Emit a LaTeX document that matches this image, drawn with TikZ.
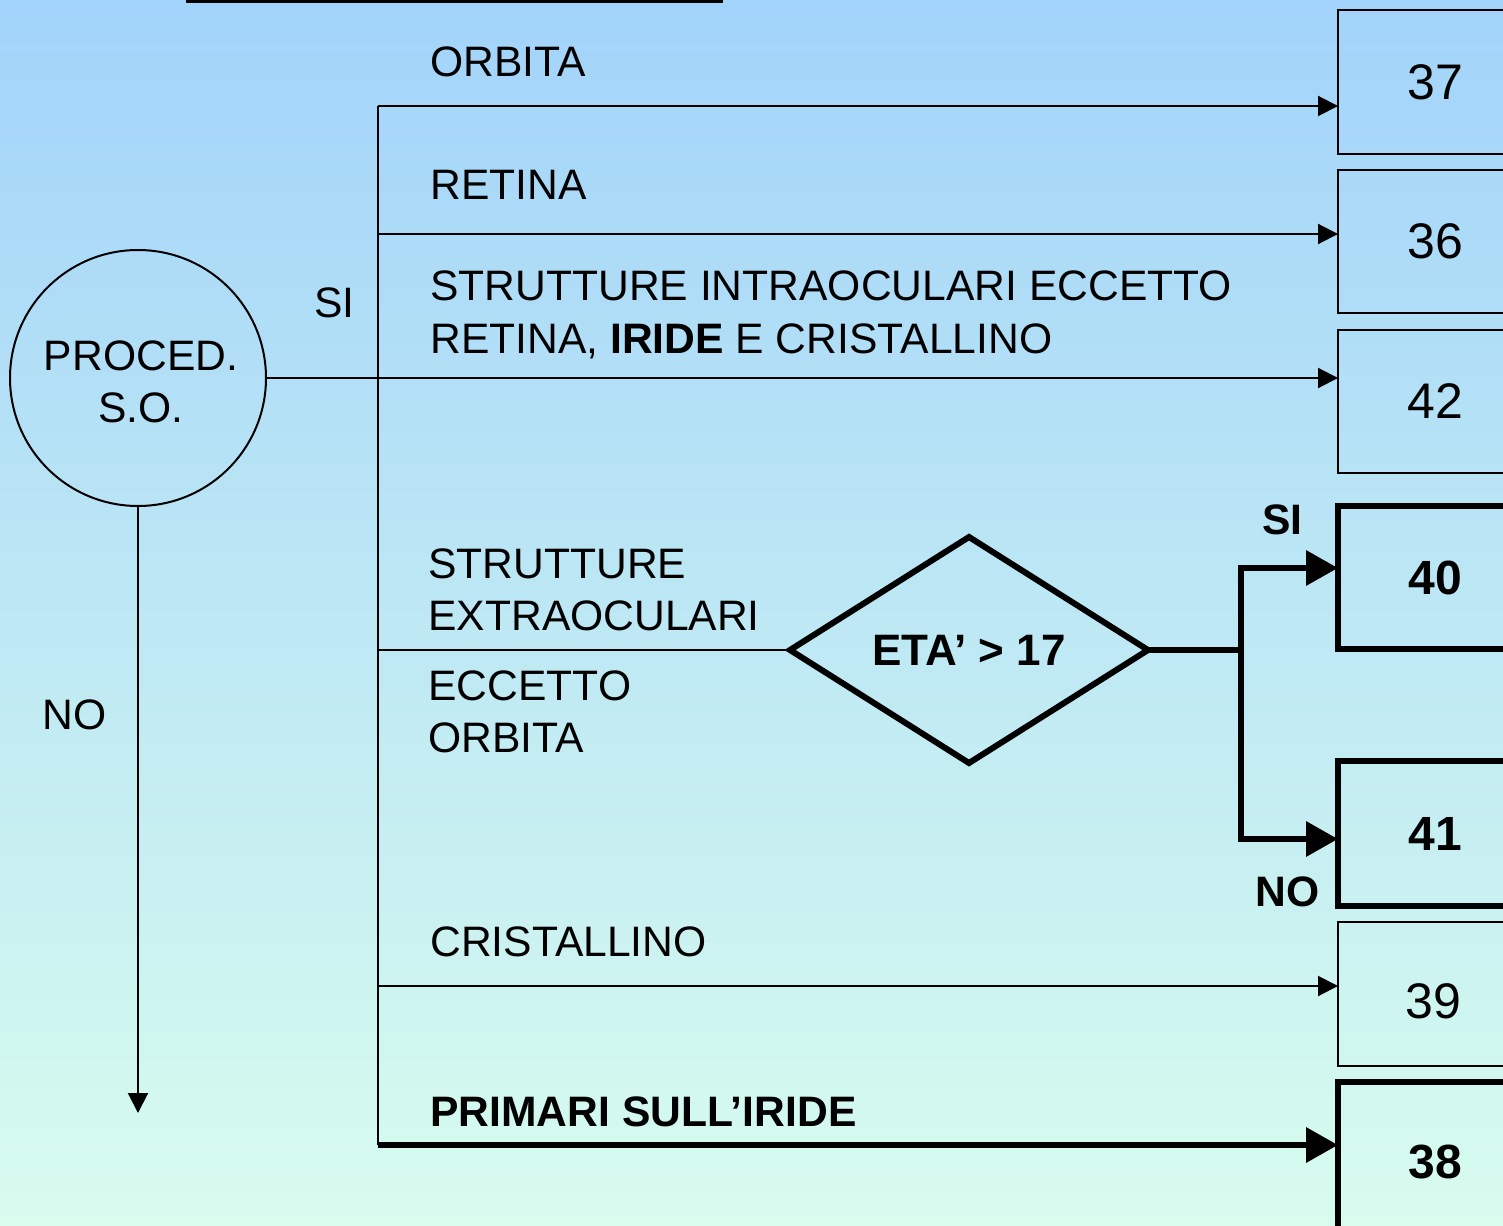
\documentclass[tikz,border=0pt]{standalone}
\usepackage{fontspec}
\setmainfont{Liberation Sans}
\usetikzlibrary{arrows.meta,shapes.geometric}
\definecolor{bgtop}{RGB}{162,211,250}
\definecolor{bgbot}{RGB}{216,252,238}
\begin{document}
\begin{tikzpicture}[x=0.5pt,y=-0.5pt,
  lbl/.style={inner sep=0pt, anchor=base west, font=\fontsize{21.3}{26}\selectfont},
  blbl/.style={lbl, font=\fontsize{21.3}{26}\selectfont\bfseries},
  tline/.style={line width=1pt},
  kline/.style={line width=3.3pt},
  tarrow/.style={tline, -{Triangle[length=10pt,width=10pt]}},
  karrow/.style={kline, -{Triangle[length=16pt,width=17pt]}},
  numbox/.style={draw, tline, inner sep=0pt, outer sep=0pt, anchor=north west, minimum width=97pt, font=\fontsize{25}{30}\selectfont},
  bnumbox/.style={numbox, kline, font=\fontsize{24}{30}\selectfont\bfseries}]
\shade[top color=bgtop,bottom color=bgbot] (0,0) rectangle (1503,1225);
\useasboundingbox (0,0) rectangle (1503,1225);
% top rule
\coordinate (tl1) at (186,1);
\coordinate (tl2) at (723,1);
\draw[line width=1.6pt] (tl1) -- (tl2);
% start circle
\node[circle, draw, tline, minimum size=128pt, inner sep=0pt, outer sep=0pt] (proc) at (138,378) {};
\node[inner sep=0pt, align=center, font=\fontsize{21.3}{26}\selectfont] (proctxt) at (141,382) {PROCED.\\S.O.};
\coordinate (noend) at (138,1113);
\draw[tarrow] (proc.south) -- (noend);
\node[lbl] (nolbl) at (42,729) {NO};
\node[lbl] (silbl) at (314,317) {SI};
% boxes
\node[numbox, minimum height=72pt] (b37) at (1338,10) {37};
\node[numbox, minimum height=71.5pt] (b36) at (1338,170) {36};
\node[numbox, minimum height=71.5pt] (b42) at (1338,330) {42};
\node[bnumbox, minimum height=71.5pt] (b40) at (1338,506) {40};
\node[bnumbox, minimum height=72.5pt] (b41) at (1338,761) {41};
\node[numbox, minimum height=72pt] (b39) at (1338,922) {};
\node[inner sep=0pt, font=\fontsize{25}{30}\selectfont] (n39) at (1433,1001) {39};
\node[bnumbox, minimum height=80pt] (b38) at (1338,1082) {38};
% trunk
\coordinate (ttop) at (378,106);
\coordinate (tbot) at (378,1145);
\draw[tline] (ttop) -- (tbot);
\coordinate (t36) at (378,234);
\coordinate (t40) at (378,650);
\coordinate (t39) at (378,986);
\draw[tarrow] (ttop) -- (ttop -| b37.west);
\draw[tarrow] (t36) -- (t36 -| b36.west);
\draw[tarrow] (proc.east) -- (proc.east -| b42.west);
\draw[tarrow] (t39) -- (t39 -| b39.west);
\draw[karrow] (tbot) -- (tbot -| b38.west);
% decision
\node[diamond, draw, line width=3pt, aspect=1.584, minimum width=179pt, minimum height=113pt, inner sep=0pt, outer sep=0pt, font=\fontsize{22}{26}\selectfont\bfseries] (eta) at (969,650) {ETA’ > 17};
\draw[tline] (t40) -- (eta.west);
\coordinate (fk) at (1241,650);
\coordinate (fkt) at (1241,568);
\coordinate (fkb) at (1241,839);
\draw[kline] (eta.east) -- (fk);
\draw[karrow] (fk) -- (fkt) -- (fkt -| b40.west);
\draw[karrow] (fk) -- (fkb) -- (fkb -| b41.west);
\node[blbl] (siy) at (1262,534) {SI};
\node[blbl] (non) at (1255,906) {NO};
% labels
\node[lbl] (l1) at (430,77) {ORBITA};
\node[lbl] (l2) at (430,199) {RETINA};
\node[lbl] (l3a) at (430,300) {STRUTTURE INTRAOCULARI ECCETTO};
\node[lbl] (l3b) at (430,353) {RETINA, \textbf{IRIDE} E CRISTALLINO};
\node[lbl] (l4a) at (428,578) {STRUTTURE};
\node[lbl] (l4b) at (428,630) {EXTRAOCULARI};
\node[lbl] (l4c) at (428,700) {ECCETTO};
\node[lbl] (l4d) at (428,752) {ORBITA};
\node[lbl] (l5) at (430,956) {CRISTALLINO};
\node[blbl] (l6) at (430,1126) {PRIMARI SULL’IRIDE};
\end{tikzpicture}
\end{document}
